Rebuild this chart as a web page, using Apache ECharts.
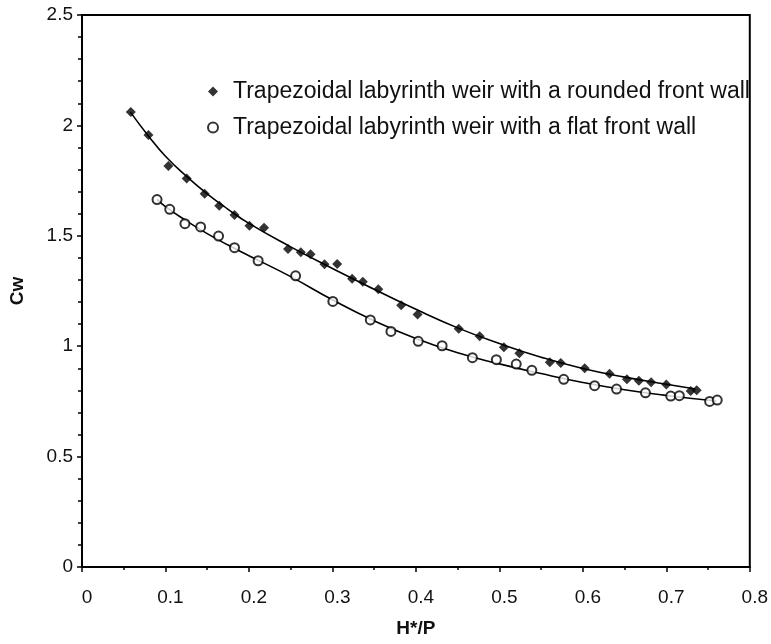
<!DOCTYPE html>
<html>
<head>
<meta charset="utf-8">
<script src="https://cdn.jsdelivr.net/npm/echarts@6/dist/echarts.min.js"></script>
<style>
html,body{margin:0;padding:0;background:#fff;}
#c{width:771px;height:644px;}
</style>
</head>
<body>
<div id="c"></div>
<script>
// Measured points: rounded front wall (filled diamonds)
var roundedX = [0.0585,0.0796,0.1035,0.1254,0.1469,0.1644,0.1827,0.2006,0.2181,0.2468,0.2621,0.2738,0.2905,0.3057,0.3236,0.3364,0.355,0.3824,0.402,0.4513,0.4764,0.5054,0.524,0.5604,0.5735,0.6022,0.632,0.6528,0.6671,0.6818,0.700,0.7292,0.7364];
var roundedY = [2.061,1.957,1.816,1.760,1.691,1.636,1.594,1.546,1.537,1.440,1.425,1.417,1.371,1.372,1.306,1.292,1.258,1.185,1.144,1.079,1.045,0.995,0.968,0.927,0.924,0.900,0.875,0.850,0.844,0.837,0.827,0.797,0.800];
// Measured points: flat front wall (open circles)
var flatX = [0.0899,0.1051,0.1233,0.1421,0.1636,0.1827,0.211,0.2559,0.3005,0.3454,0.3701,0.4028,0.4314,0.4677,0.4964,0.5202,0.5389,0.5771,0.6141,0.6404,0.675,0.7053,0.7156,0.7519,0.761];
var flatY = [1.664,1.620,1.555,1.540,1.499,1.446,1.387,1.319,1.203,1.119,1.067,1.022,1.002,0.948,0.939,0.919,0.891,0.850,0.821,0.806,0.789,0.774,0.776,0.750,0.756];
// Fitted curves
var roundedFitX = [0.058,0.08,0.1,0.125,0.15,0.175,0.2,0.25,0.3,0.35,0.4,0.45,0.5,0.55,0.6,0.65,0.7,0.735];
var roundedFitY = [2.06,1.95,1.86,1.77,1.69,1.62,1.556,1.45,1.352,1.258,1.167,1.083,1.012,0.95,0.899,0.86,0.828,0.806];
var flatFitX = [0.09,0.1,0.125,0.15,0.175,0.2,0.25,0.3,0.35,0.4,0.45,0.5,0.55,0.6,0.65,0.7,0.76];
var flatFitY = [1.665,1.632,1.568,1.51,1.458,1.41,1.315,1.21,1.115,1.035,0.97,0.92,0.876,0.836,0.803,0.777,0.752];
var xTicks = [0,0.1,0.2,0.3,0.4,0.5,0.6,0.7,0.8];
var yTicks = [0,0.5,1,1.5,2,2.5];
var seriesNames = ['Trapezoidal labyrinth weir with a rounded front wall','Trapezoidal labyrinth weir with a flat front wall'];

function pairs(xs, ys){ return xs.map(function(x,i){ return [x, ys[i]]; }); }

var chart = echarts.init(document.getElementById('c'), null, {renderer:'canvas'});
var font = 'Liberation Sans, Arial, sans-serif';
chart.setOption({
  animation:false,
  backgroundColor:'#fff',
  textStyle:{fontFamily:font},
  grid:{left:81,right:20,top:15,bottom:77,show:true,borderColor:'#000',borderWidth:2,backgroundColor:'transparent'},
  legend:{
    data:seriesNames,
    orient:'vertical',
    left:202,top:75,
    itemWidth:10,itemHeight:10,itemGap:13,
    textStyle:{fontSize:23,color:'#111',fontFamily:font,padding:[0,0,0,10]}
  },
  xAxis:{
    type:'value',min:xTicks[0],max:xTicks[xTicks.length-1],interval:0.1,
    name:'H*/P',nameLocation:'middle',nameGap:52,
    nameTextStyle:{fontSize:19,fontWeight:'bold',color:'#111'},
    axisLine:{show:true,lineStyle:{color:'#000',width:2}},
    axisTick:{show:true,length:5,lineStyle:{color:'#000',width:1.5}},
    minorTick:{show:true,splitNumber:2,length:3,lineStyle:{color:'#000',width:1.5}},
    axisLabel:{fontSize:19,color:'#111',margin:21,padding:[0,0,0,10],
      formatter:function(v){ return String(Math.round(v*10)/10); }},
    splitLine:{show:false}
  },
  yAxis:{
    type:'value',min:yTicks[0],max:yTicks[yTicks.length-1],interval:0.5,
    name:'Cw',nameLocation:'middle',nameGap:55,nameRotate:90,
    nameTextStyle:{fontSize:19,fontWeight:'bold',color:'#111'},
    axisLine:{show:true,lineStyle:{color:'#000',width:2}},
    axisTick:{show:true,length:5,lineStyle:{color:'#000',width:1.5}},
    minorTick:{show:true,splitNumber:5,length:4,lineStyle:{color:'#000',width:1.5}},
    axisLabel:{fontSize:19,color:'#111',margin:9},
    splitLine:{show:false}
  },
  series:[
    {name:seriesNames[0],type:'scatter',symbol:'diamond',symbolSize:10,
     itemStyle:{color:'#000'},data:pairs(roundedX,roundedY),z:5},
    {name:seriesNames[1],type:'scatter',symbol:'circle',symbolSize:9,
     itemStyle:{color:'#fff',borderColor:'#000',borderWidth:2},data:pairs(flatX,flatY),z:5},
    {name:'fit1',type:'line',smooth:true,showSymbol:false,symbol:'none',
     lineStyle:{color:'#000',width:1.6},data:pairs(roundedFitX,roundedFitY),z:3},
    {name:'fit2',type:'line',smooth:true,showSymbol:false,symbol:'none',
     lineStyle:{color:'#000',width:1.6},data:pairs(flatFitX,flatFitY),z:3}
  ]
});
</script>
</body>
</html>
